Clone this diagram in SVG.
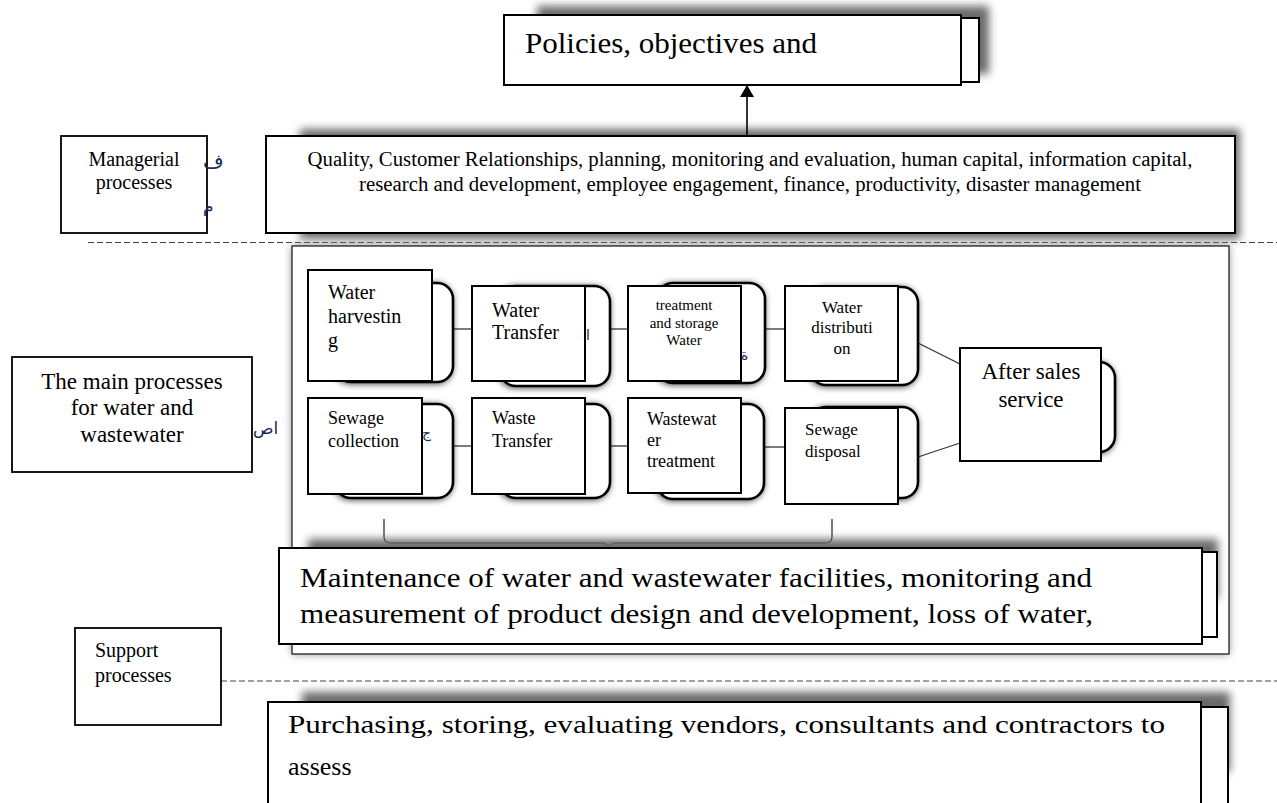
<svg xmlns="http://www.w3.org/2000/svg" width="1277" height="803" viewBox="0 0 1277 803">
<style>
text{font-family:"Liberation Serif","Times New Roman",serif;fill:#000}
.box{fill:#fff;stroke:#000;stroke-width:2}
.lbl{fill:#fff;stroke:#000;stroke-width:1.8}
.back{fill:#fff;stroke:#000;stroke-width:2.6;filter:url(#glow)}
.sh{fill:#6a6a6a;filter:url(#blur)}
.con{stroke:#333;stroke-width:1.3;fill:none}
.dash{stroke:#444;stroke-width:1.2;stroke-dasharray:6 3;fill:none}
.ar{font-family:"DejaVu Sans",sans-serif;fill:#1a2a5a}
.mid{text-anchor:middle}
</style>
<defs>
<filter id="blur" x="-10%" y="-60%" width="120%" height="220%"><feGaussianBlur stdDeviation="4"/></filter>
<filter id="glow" x="-25%" y="-25%" width="150%" height="150%">
<feGaussianBlur in="SourceAlpha" stdDeviation="3"/>
<feOffset dx="-1" dy="1"/>
<feComponentTransfer><feFuncA type="linear" slope="0.7"/></feComponentTransfer>
<feMerge><feMergeNode/><feMergeNode in="SourceGraphic"/></feMerge>
</filter>
<marker id="arr" viewBox="0 0 12 14" refX="12" refY="7" markerWidth="12" markerHeight="14" markerUnits="userSpaceOnUse" orient="auto"><path d="M0,0 L12,7 L0,14 z" fill="#000"/></marker>
</defs>
<rect width="1277" height="803" fill="#fff"/>

<g id="separators">
<line class="dash" x1="88" y1="242.5" x2="1277" y2="242.5"/>
<line class="dash" x1="221" y1="681" x2="1277" y2="681" stroke="#666"/>
</g>

<g id="policies">
<rect class="sh" x="537" y="6" width="452" height="68"/>
<rect class="box" x="520" y="18" width="459" height="64"/>
<rect class="box" x="504" y="15" width="457" height="70"/>
<text x="525" y="53" font-size="30" textLength="292" lengthAdjust="spacingAndGlyphs">Policies, objectives and</text>
</g>

<g id="managerial-label">
<rect class="lbl" x="61" y="136" width="146" height="97"/>
<text class="mid" x="134" y="166" font-size="20">Managerial</text>
<text class="mid" x="134" y="189" font-size="20">processes</text>
<text class="ar" x="203" y="168" font-size="20">ف</text>
<text class="ar" x="203" y="212" font-size="17">م</text>
</g>

<g id="managerial-list">
<rect class="sh" x="300" y="129" width="940" height="110"/>
<rect class="box" x="266" y="136" width="969" height="97"/>
<text class="mid" x="750" y="166" font-size="20" textLength="885" lengthAdjust="spacingAndGlyphs">Quality, Customer Relationships, planning, monitoring and evaluation, human capital, information capital,</text>
<text class="mid" x="750" y="191" font-size="20" textLength="782" lengthAdjust="spacingAndGlyphs">research and development, employee engagement, finance, productivity, disaster management</text>
</g>

<g id="main-label">
<rect class="lbl" x="12" y="357" width="240" height="115"/>
<text class="mid" x="132" y="389" font-size="23">The main processes</text>
<text class="mid" x="132" y="415" font-size="23">for water and</text>
<text class="mid" x="132" y="442" font-size="23">wastewater</text>
<text class="ar" x="253" y="434" font-size="17">اص</text>
</g>

<g id="main-container">
<rect x="292" y="246" width="937" height="408" fill="#888" filter="url(#blur)"/>
<rect x="292" y="246" width="937" height="408" fill="#fff" stroke="#222" stroke-width="1.3"/>
</g>

<g id="connectors">
<line class="con" x1="453" y1="329" x2="472" y2="329"/>
<line class="con" x1="610" y1="329" x2="628" y2="329"/>
<line class="con" x1="765" y1="329" x2="785" y2="329"/>
<line class="con" x1="453" y1="446" x2="472" y2="446"/>
<line class="con" x1="610" y1="446" x2="628" y2="446"/>
<line class="con" x1="764" y1="447" x2="785" y2="447"/>
<line class="con" x1="918" y1="343" x2="960" y2="364"/>
<line class="con" x1="918" y1="457" x2="960" y2="443"/>
<line x1="747" y1="136" x2="747" y2="85" stroke="#000" stroke-width="1.6" marker-end="url(#arr)"/>
<path class="con" stroke="#555" d="M384,519 L384,537 Q384,543 391,543 L602,543 Q609,543 609,550 Q609,543 616,543 L825,543 Q832,543 832,537 L832,519"/>
</g>

<g id="n-water-harvesting">
<rect class="back" x="335" y="283" width="118" height="99" rx="16"/>
<rect class="box" x="308" y="270" width="124" height="111"/>
<text x="328" y="299" font-size="20">Water</text>
<text x="328" y="323" font-size="20">harvestin</text>
<text x="328" y="347" font-size="20">g</text>
</g>

<g id="n-water-transfer">
<rect class="back" x="500" y="286" width="110" height="100" rx="16"/>
<text class="ar" x="586" y="340" font-size="14" fill="#3050a0">ا</text>
<rect class="box" x="472" y="286" width="113" height="95"/>
<text x="492" y="317" font-size="20">Water</text>
<text x="492" y="339" font-size="20">Transfer</text>
</g>

<g id="n-water-treatment">
<rect class="back" x="657" y="283" width="108" height="100" rx="16"/>
<text class="ar" x="741" y="360" font-size="14" fill="#3050a0">ة</text>
<rect class="box" x="628" y="286" width="113" height="95"/>
<text class="mid" x="684" y="310" font-size="15">treatment</text>
<text class="mid" x="684" y="328" font-size="15">and storage</text>
<text class="mid" x="684" y="345" font-size="15">Water</text>
</g>

<g id="n-water-distribution">
<rect class="back" x="810" y="287" width="108" height="98" rx="16"/>
<rect class="box" x="785" y="286" width="113" height="95"/>
<text class="mid" x="842" y="313" font-size="17">Water</text>
<text class="mid" x="842" y="333" font-size="17">distributi</text>
<text class="mid" x="842" y="354" font-size="17">on</text>
</g>

<g id="n-sewage-collection">
<rect class="back" x="335" y="404" width="118" height="94" rx="16"/>
<text class="ar" x="422" y="438" font-size="14" fill="#3050a0">ج</text>
<rect class="box" x="308" y="398" width="114" height="96"/>
<text x="328" y="424" font-size="18">Sewage</text>
<text x="328" y="447" font-size="18">collection</text>
</g>

<g id="n-waste-transfer">
<rect class="back" x="500" y="404" width="110" height="94" rx="16"/>
<rect class="box" x="472" y="398" width="113" height="96"/>
<text x="492" y="424" font-size="18">Waste</text>
<text x="492" y="447" font-size="18">Transfer</text>
</g>

<g id="n-wastewater-treatment">
<rect class="back" x="657" y="404" width="107" height="95" rx="16"/>
<rect class="box" x="628" y="398" width="113" height="95"/>
<text x="647" y="425" font-size="18">Wastewat</text>
<text x="647" y="446" font-size="18">er</text>
<text x="647" y="467" font-size="18">treatment</text>
</g>

<g id="n-sewage-disposal">
<rect class="back" x="810" y="407" width="108" height="91" rx="16"/>
<rect class="box" x="785" y="408" width="113" height="96"/>
<text x="805" y="435" font-size="17">Sewage</text>
<text x="805" y="457" font-size="17">disposal</text>
</g>

<g id="n-after-sales">
<rect class="back" x="1000" y="362" width="115" height="90" rx="16"/>
<rect class="box" x="960" y="348" width="141" height="113"/>
<text class="mid" x="1031" y="379" font-size="23">After sales</text>
<text class="mid" x="1031" y="407" font-size="23">service</text>
</g>

<g id="maintenance">
<rect class="sh" x="308" y="539" width="910" height="60"/>
<rect class="box" x="300" y="552" width="917" height="85"/>
<rect class="box" x="279" y="548" width="923" height="96"/>
<text x="300" y="587" font-size="27" textLength="792" lengthAdjust="spacingAndGlyphs">Maintenance of water and wastewater facilities, monitoring and</text>
<text x="300" y="623" font-size="27" textLength="793" lengthAdjust="spacingAndGlyphs">measurement of product design and development, loss of water,</text>
</g>

<g id="support-label">
<rect class="lbl" x="75" y="628" width="146" height="97"/>
<text x="95" y="657" font-size="20">Support</text>
<text x="95" y="682" font-size="20">processes</text>
</g>

<g id="purchasing">
<rect class="sh" x="302" y="692" width="928" height="80"/>
<rect class="box" x="290" y="707" width="938" height="110"/>
<rect class="box" x="268" y="702" width="933" height="115"/>
<text x="288" y="733" font-size="26" textLength="877" lengthAdjust="spacingAndGlyphs">Purchasing, storing, evaluating vendors, consultants and contractors to</text>
<text x="288" y="775" font-size="26">assess</text>
</g>
</svg>
